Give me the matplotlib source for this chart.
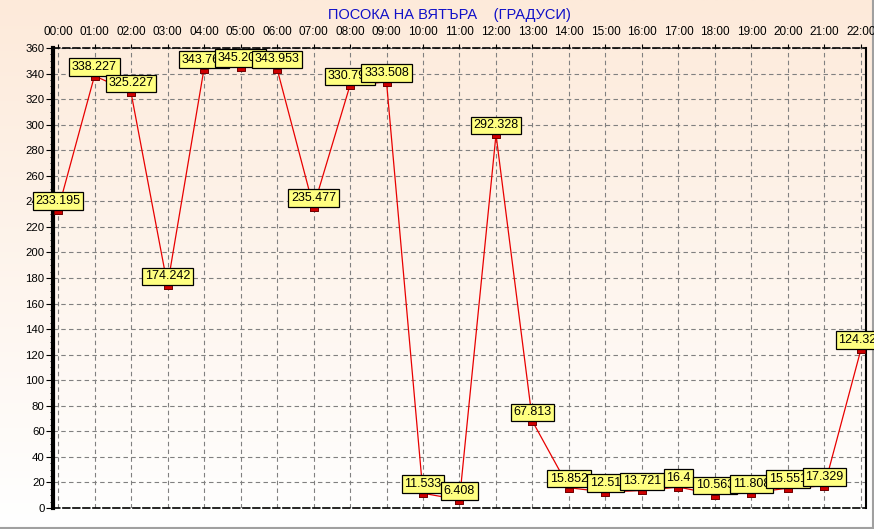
import numpy as np
import matplotlib
matplotlib.use('Agg')
import matplotlib.pyplot as plt
from matplotlib.ticker import MultipleLocator

plt.rcParams['font.family'] = ['Liberation Sans', 'DejaVu Sans']

# wind direction per hour (degrees)
hours = ['00:00', '01:00', '02:00', '03:00', '04:00', '05:00', '06:00', '07:00',
         '08:00', '09:00', '10:00', '11:00', '12:00', '13:00', '14:00', '15:00',
         '16:00', '17:00', '18:00', '19:00', '20:00', '21:00', '22:00']
directions = [233.195, 338.227, 325.227, 174.242, 343.765, 345.204, 343.953,
              235.477, 330.792, 333.508, 11.533, 6.408, 292.328, 67.813,
              15.852, 12.51, 13.721, 16.4, 10.563, 11.808, 15.551, 17.329,
              124.328]

W, H = 874, 529
fig = plt.figure(figsize=(W / 100, H / 100), dpi=100)

# background gradient, peach at the top fading to white
bg = fig.add_axes([0, 0, 1, 1], zorder=-10)
top = np.array([253, 234, 218]) / 255
bot = np.array([255, 255, 255]) / 255
t = np.linspace(0, 1, 256)[:, None]
grad = top[None, :] * (1 - t) + bot[None, :] * t
bg.imshow(np.repeat(grad[:, None, :], 2, axis=1), aspect='auto',
          extent=[0, 1, 0, 1], origin='upper')
bg.plot([0, 1], [1.5 / H, 1.5 / H], color='#a0a0a0', lw=1.5)
bg.plot([1 - 1.5 / W, 1 - 1.5 / W], [0, 1], color='#a0a0a0', lw=1.5)
bg.set_xlim(0, 1)
bg.set_ylim(0, 1)
bg.axis('off')

ax = fig.add_axes([53 / W, 21 / H, 813 / W, 460 / H])
ax.set_facecolor('none')

x = np.arange(len(hours))
ax.plot(x, directions, color='#e80000', lw=0.9, zorder=3)
# small flat marker hanging just below each point
rect = [(-1, -0.95), (1, -0.95), (1, 0), (-1, 0), (-1, -0.95)]
ax.plot(x, directions, ls='none', marker=rect, markersize=6.3,
        markerfacecolor='#d00000', markeredgecolor='#700000', mew=0.7, zorder=4)

for xi, v in zip(x, directions):
    ax.annotate(str(v), (xi, v), xytext=(0, 2.2), textcoords='offset points',
                ha='center', va='bottom', fontsize=9, zorder=5,
                annotation_clip=False,
                bbox=dict(boxstyle='square,pad=0.22', fc='#ffff80',
                          ec='black', lw=0.9))

ax.set_xlim(-0.137, 22.137)
ax.set_ylim(0, 360)
ax.set_xticks(x)
ax.set_xticklabels(hours)
ax.xaxis.tick_top()
ax.yaxis.set_major_locator(MultipleLocator(20))
ax.yaxis.set_minor_locator(MultipleLocator(5))
ax.tick_params(axis='x', labelsize=8.5, length=3, pad=4)
ax.tick_params(axis='y', which='major', labelsize=8.2, length=5, pad=1)
ax.tick_params(axis='y', which='minor', length=2)

ax.grid(True, color='#808080', linestyle=(0, (4, 3)), lw=0.8)
ax.set_axisbelow(True)

ax.spines['left'].set_linewidth(3)
ax.spines['right'].set_linewidth(1.5)
ax.spines['top'].set_linestyle((0, (4, 2)))
ax.spines['bottom'].set_linestyle((0, (4, 2)))
ax.spines['top'].set_linewidth(1.2)
ax.spines['bottom'].set_linewidth(1.2)

fig.text(449 / W, 1 - 15 / H, 'ПОСОКА НА ВЯТЪРА    (ГРАДУСИ)', color='#1010c8',
         fontsize=10.5, ha='center', va='center')

fig.savefig('out.png', dpi=100)
